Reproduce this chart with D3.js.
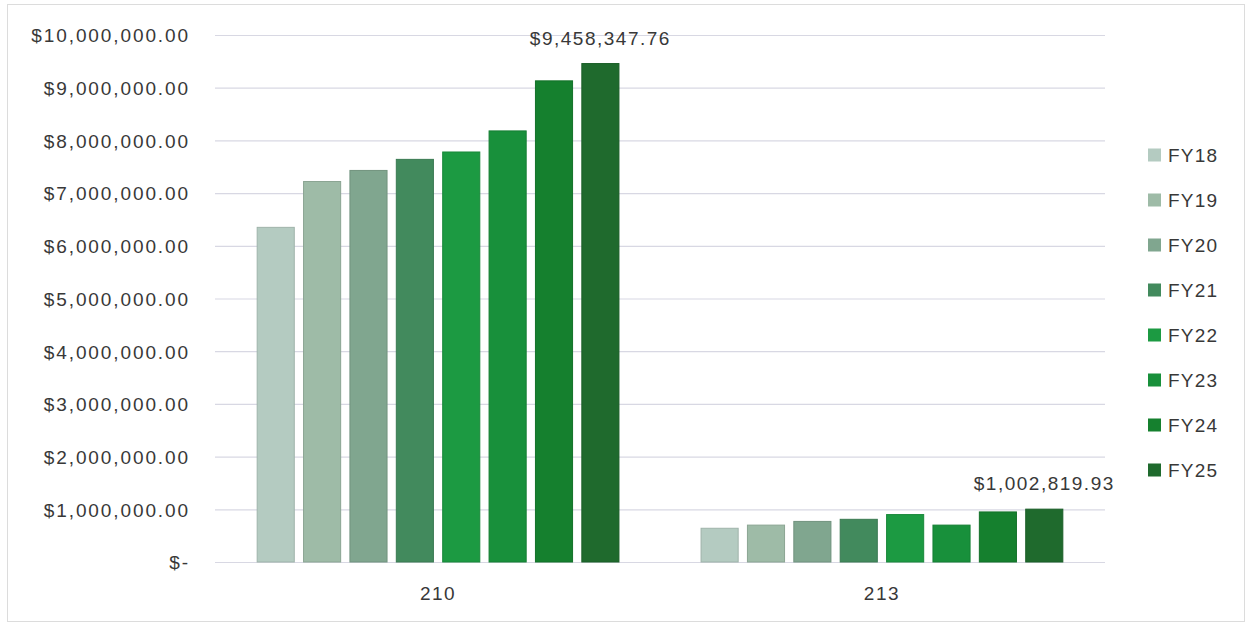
<!DOCTYPE html>
<html>
<head>
<meta charset="utf-8">
<script src="https://cdn.jsdelivr.net/npm/d3@7/dist/d3.min.js"></script>
<style>
  html, body { margin: 0; padding: 0; background: #ffffff; }
  svg { display: block; }
  text { font-family: "Liberation Sans", Arial, sans-serif; fill: #383838; }
</style>
</head>
<body>
<svg id="chart" width="1246" height="624"></svg>
<script>
// Fund categories along the x axis
const categories = ["210", "213"];
// Fiscal years shown as grouped series
const seriesNames = ["FY18", "FY19", "FY20", "FY21", "FY22", "FY23", "FY24", "FY25"];
// Amounts per fiscal year, fund 210
const values210 = [6350000, 7220000, 7430000, 7640000, 7780000, 8180000, 9130000, 9458347.76];
// Amounts per fiscal year, fund 213
const values213 = [640000, 700000, 770000, 810000, 900000, 700000, 950000, 1002819.93];
// Y axis tick values
const yTicks = [0, 1000000, 2000000, 3000000, 4000000, 5000000, 6000000, 7000000, 8000000, 9000000, 10000000];
// Series colours
const colors = ["#b4cbc1", "#9ebba7", "#80a68f", "#428a5d", "#1c9a42", "#18903b", "#15802e", "#1f6a2d"];

const rows = [values210, values213];
const data = categories.map((c, i) => ({
  category: c,
  values: seriesNames.map((s, j) => ({ series: s, value: rows[i][j] }))
}));

const svg = d3.select("#chart");

// Outer frame
svg.append("rect")
  .attr("x", 7.5).attr("y", 4.5)
  .attr("width", 1237).attr("height", 617)
  .attr("fill", "none")
  .attr("stroke", "#dcdcdc")
  .attr("stroke-width", 1);

const plotLeft = 215, plotRight = 1105, plotTop = 35, plotBottom = 562;

const y = d3.scaleLinear().domain([0, 10000000]).range([plotBottom, plotTop]);
const x0 = d3.scaleBand().domain(categories).range([plotLeft, plotRight])
  .paddingInner(0.185).paddingOuter(0.095);
const x1 = d3.scaleBand().domain(seriesNames).range([0, x0.bandwidth()])
  .paddingInner(0.2).paddingOuter(0);
const color = d3.scaleOrdinal().domain(seriesNames).range(colors);

const money = d3.format(",.2f");
const tickFmt = v => v === 0 ? "$-" : "$" + money(v);

// Gridlines and y labels
const yAxis = d3.axisLeft(y)
  .tickValues(yTicks)
  .tickFormat(tickFmt)
  .tickSize(-(plotRight - plotLeft))
  .tickPadding(25);

const gy = svg.append("g")
  .attr("transform", `translate(${plotLeft},0)`)
  .call(yAxis);
gy.select(".domain").remove();
gy.selectAll(".tick line")
  .attr("stroke", "#d8d8e3")
  .attr("stroke-width", 1.2);
gy.selectAll(".tick text")
  .style("font-size", "19px")
  .style("letter-spacing", "1.9px")
  .attr("fill", "#383838")
  .attr("dy", "0.36em");

// Grouped bars
const groups = svg.append("g").selectAll("g")
  .data(data)
  .join("g")
  .attr("transform", d => `translate(${x0(d.category)},0)`);

groups.selectAll("rect")
  .data(d => d.values)
  .join("rect")
  .attr("x", d => x1(d.series))
  .attr("y", d => y(d.value))
  .attr("width", x1.bandwidth())
  .attr("height", d => y(0) - y(d.value))
  .attr("fill", d => color(d.series))
  .attr("stroke", d => d3.color(color(d.series)).darker(0.35))
  .attr("stroke-width", 1);

// Value label over the latest year's bar
groups.append("text")
  .datum(d => d.values[d.values.length - 1])
  .attr("x", d => x1(d.series) + x1.bandwidth() / 2)
  .attr("y", d => y(d.value) - 19)
  .attr("text-anchor", "middle")
  .style("font-size", "19px")
  .style("letter-spacing", "1.5px")
  .text(d => "$" + money(d.value));

// Category labels
const xAxis = d3.axisBottom(x0).tickSize(0).tickPadding(0);
const gx = svg.append("g")
  .attr("transform", `translate(0,${plotBottom})`)
  .call(xAxis);
gx.select(".domain").remove();
gx.selectAll(".tick text")
  .attr("y", 38)
  .attr("dy", 0)
  .attr("fill", "#383838")
  .style("font-size", "19px")
  .style("letter-spacing", "1.5px");

// Legend
const legend = svg.append("g")
  .selectAll("g")
  .data(seriesNames)
  .join("g")
  .attr("transform", (d, i) => `translate(1148,${155 + i * 45})`);

legend.append("rect")
  .attr("x", 0).attr("y", -6.5)
  .attr("width", 13).attr("height", 13)
  .attr("fill", d => color(d));

legend.append("text")
  .attr("x", 20)
  .attr("y", 0)
  .attr("dy", "0.36em")
  .style("font-size", "19px")
  .style("letter-spacing", "1.2px")
  .text(d => d);
</script>
</body>
</html>
